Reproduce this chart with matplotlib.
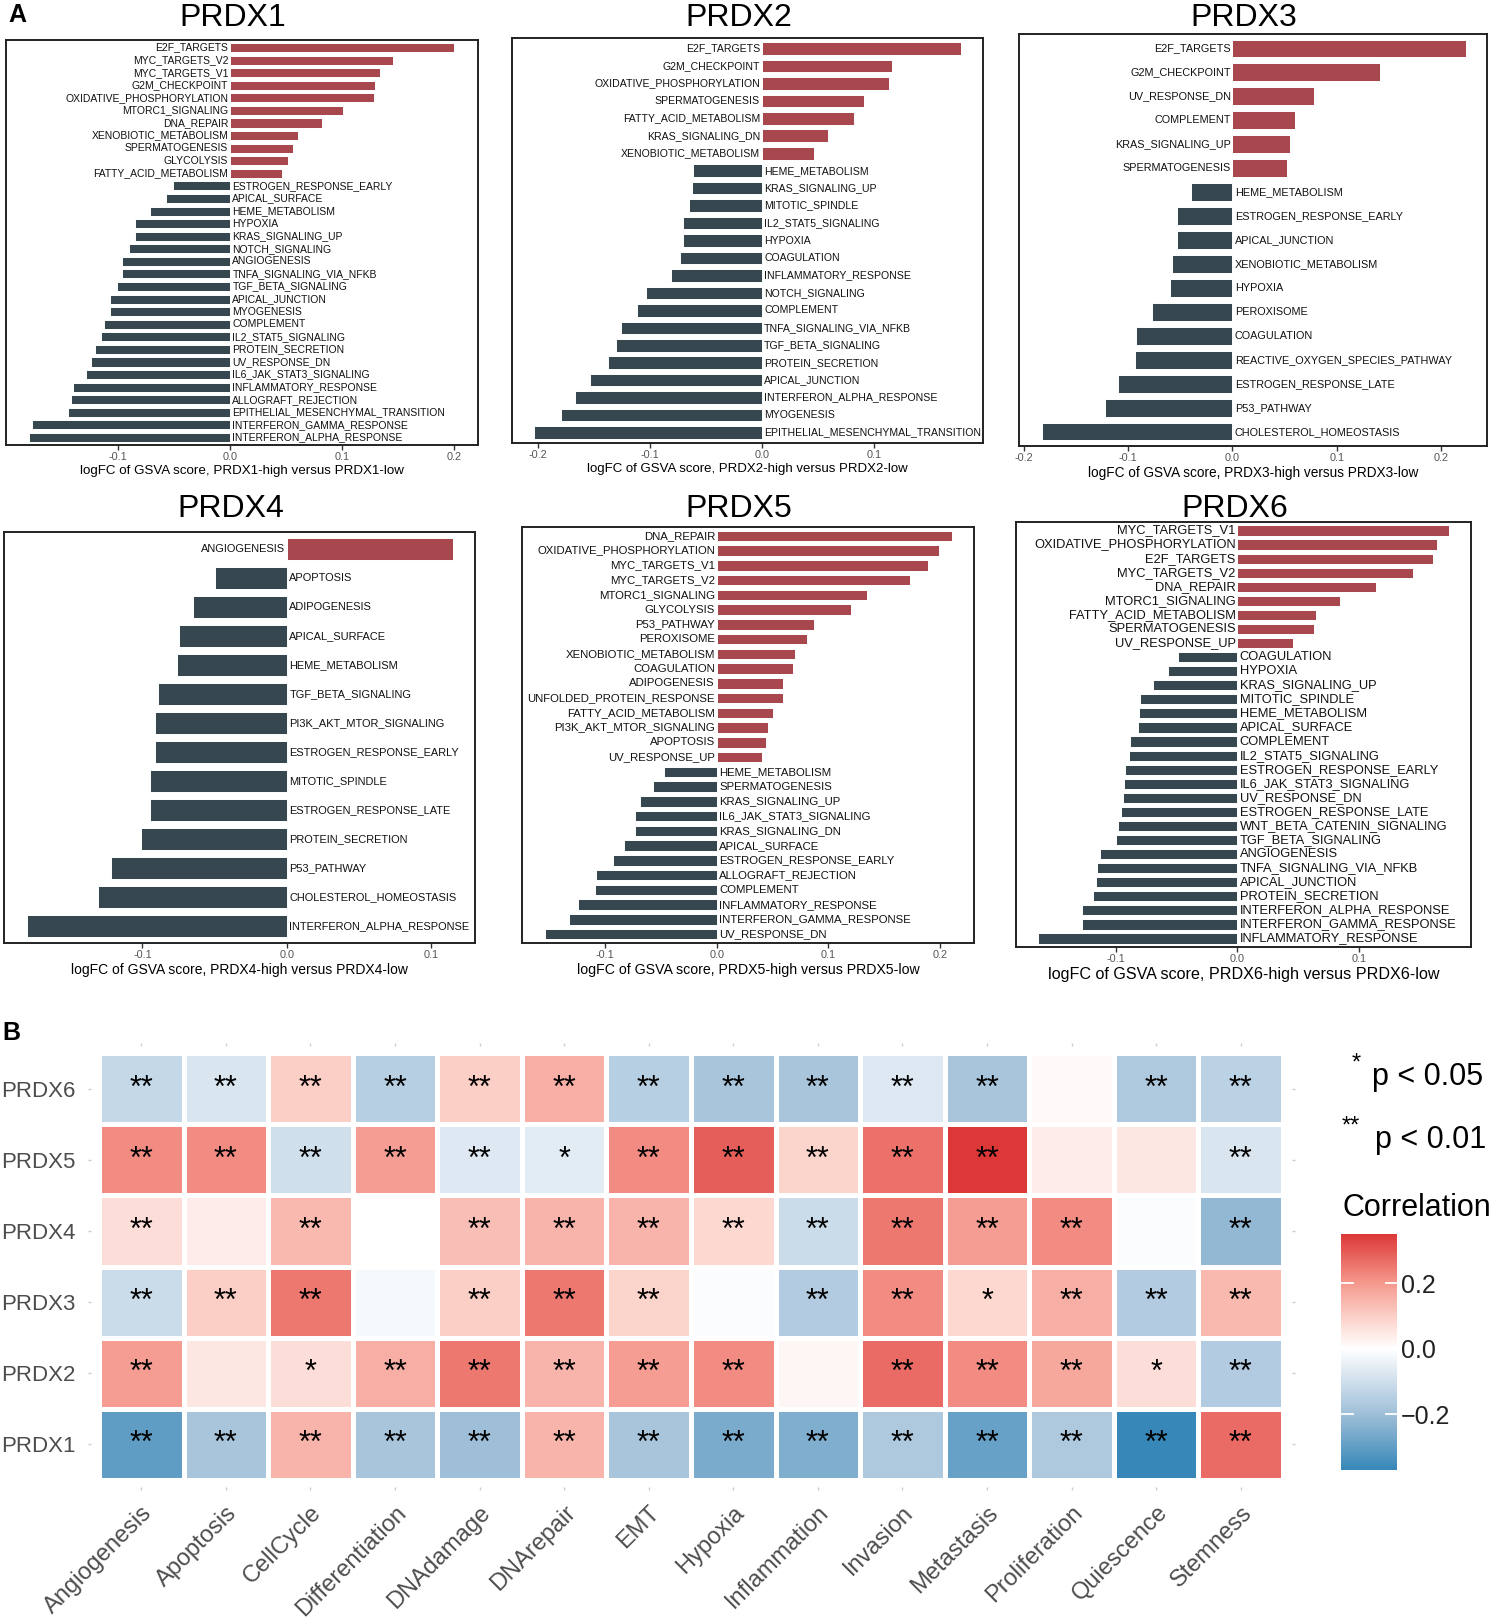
import numpy as np
import matplotlib
matplotlib.use('Agg')
import matplotlib.pyplot as plt
from matplotlib import font_manager
from matplotlib.colors import LinearSegmentedColormap, Normalize
from matplotlib.cm import ScalarMappable

plt.rcParams['font.family'] = ['Liberation Sans', 'DejaVu Sans']
installed = {f.name for f in font_manager.fontManager.ttflist}
NARROW = ['Liberation Sans Narrow', 'DejaVu Sans'] if 'Liberation Sans Narrow' in installed else ['Liberation Sans', 'DejaVu Sans']

# ---------------- data: panel A (logFC of GSVA score) ----------------
terms_prdx1 = ["E2F_TARGETS", "MYC_TARGETS_V2", "MYC_TARGETS_V1", "G2M_CHECKPOINT",
               "OXIDATIVE_PHOSPHORYLATION", "MTORC1_SIGNALING", "DNA_REPAIR",
               "XENOBIOTIC_METABOLISM", "SPERMATOGENESIS", "GLYCOLYSIS", "FATTY_ACID_METABOLISM",
               "ESTROGEN_RESPONSE_EARLY", "APICAL_SURFACE", "HEME_METABOLISM", "HYPOXIA",
               "KRAS_SIGNALING_UP", "NOTCH_SIGNALING", "ANGIOGENESIS", "TNFA_SIGNALING_VIA_NFKB",
               "TGF_BETA_SIGNALING", "APICAL_JUNCTION", "MYOGENESIS", "COMPLEMENT",
               "IL2_STAT5_SIGNALING", "PROTEIN_SECRETION", "UV_RESPONSE_DN",
               "IL6_JAK_STAT3_SIGNALING", "INFLAMMATORY_RESPONSE", "ALLOGRAFT_REJECTION",
               "EPITHELIAL_MESENCHYMAL_TRANSITION", "INTERFERON_GAMMA_RESPONSE",
               "INTERFERON_ALPHA_RESPONSE"]
logfc_prdx1 = [0.200, 0.145, 0.134, 0.129, 0.128, 0.101, 0.082, 0.061, 0.056, 0.052, 0.046,
               -0.051, -0.057, -0.071, -0.085, -0.085, -0.090, -0.096, -0.096, -0.101, -0.107,
               -0.107, -0.112, -0.115, -0.120, -0.124, -0.128, -0.140, -0.142, -0.144, -0.176,
               -0.179]

terms_prdx2 = ["E2F_TARGETS", "G2M_CHECKPOINT", "OXIDATIVE_PHOSPHORYLATION", "SPERMATOGENESIS",
               "FATTY_ACID_METABOLISM", "KRAS_SIGNALING_DN", "XENOBIOTIC_METABOLISM",
               "HEME_METABOLISM", "KRAS_SIGNALING_UP", "MITOTIC_SPINDLE", "IL2_STAT5_SIGNALING",
               "HYPOXIA", "COAGULATION", "INFLAMMATORY_RESPONSE", "NOTCH_SIGNALING", "COMPLEMENT",
               "TNFA_SIGNALING_VIA_NFKB", "TGF_BETA_SIGNALING", "PROTEIN_SECRETION",
               "APICAL_JUNCTION", "INTERFERON_ALPHA_RESPONSE", "MYOGENESIS",
               "EPITHELIAL_MESENCHYMAL_TRANSITION"]
logfc_prdx2 = [0.178, 0.116, 0.114, 0.091, 0.082, 0.059, 0.047, -0.061, -0.062, -0.065, -0.070,
               -0.070, -0.073, -0.081, -0.103, -0.111, -0.126, -0.130, -0.137, -0.153, -0.167,
               -0.179, -0.203]

terms_prdx3 = ["E2F_TARGETS", "G2M_CHECKPOINT", "UV_RESPONSE_DN", "COMPLEMENT",
               "KRAS_SIGNALING_UP", "SPERMATOGENESIS", "HEME_METABOLISM",
               "ESTROGEN_RESPONSE_EARLY", "APICAL_JUNCTION", "XENOBIOTIC_METABOLISM", "HYPOXIA",
               "PEROXISOME", "COAGULATION", "REACTIVE_OXYGEN_SPECIES_PATHWAY",
               "ESTROGEN_RESPONSE_LATE", "P53_PATHWAY", "CHOLESTEROL_HOMEOSTASIS"]
logfc_prdx3 = [0.224, 0.141, 0.078, 0.060, 0.055, 0.052, -0.040, -0.053, -0.053, -0.058, -0.060,
               -0.077, -0.092, -0.093, -0.110, -0.122, -0.182]

terms_prdx4 = ["ANGIOGENESIS", "APOPTOSIS", "ADIPOGENESIS", "APICAL_SURFACE", "HEME_METABOLISM",
               "TGF_BETA_SIGNALING", "PI3K_AKT_MTOR_SIGNALING", "ESTROGEN_RESPONSE_EARLY",
               "MITOTIC_SPINDLE", "ESTROGEN_RESPONSE_LATE", "PROTEIN_SECRETION", "P53_PATHWAY",
               "CHOLESTEROL_HOMEOSTASIS", "INTERFERON_ALPHA_RESPONSE"]
logfc_prdx4 = [0.115, -0.050, -0.065, -0.075, -0.076, -0.089, -0.091, -0.091, -0.095, -0.095,
               -0.101, -0.122, -0.131, -0.180]

terms_prdx5 = ["DNA_REPAIR", "OXIDATIVE_PHOSPHORYLATION", "MYC_TARGETS_V1", "MYC_TARGETS_V2",
               "MTORC1_SIGNALING", "GLYCOLYSIS", "P53_PATHWAY", "PEROXISOME",
               "XENOBIOTIC_METABOLISM", "COAGULATION", "ADIPOGENESIS",
               "UNFOLDED_PROTEIN_RESPONSE", "FATTY_ACID_METABOLISM", "PI3K_AKT_MTOR_SIGNALING",
               "APOPTOSIS", "UV_RESPONSE_UP", "HEME_METABOLISM", "SPERMATOGENESIS",
               "KRAS_SIGNALING_UP", "IL6_JAK_STAT3_SIGNALING", "KRAS_SIGNALING_DN",
               "APICAL_SURFACE", "ESTROGEN_RESPONSE_EARLY", "ALLOGRAFT_REJECTION", "COMPLEMENT",
               "INFLAMMATORY_RESPONSE", "INTERFERON_GAMMA_RESPONSE", "UV_RESPONSE_DN"]
logfc_prdx5 = [0.211, 0.199, 0.189, 0.173, 0.135, 0.120, 0.087, 0.081, 0.070, 0.068, 0.059,
               0.059, 0.050, 0.046, 0.044, 0.041, -0.047, -0.057, -0.069, -0.073, -0.073,
               -0.083, -0.093, -0.108, -0.109, -0.124, -0.132, -0.154]

terms_prdx6 = ["MYC_TARGETS_V1", "OXIDATIVE_PHOSPHORYLATION", "E2F_TARGETS", "MYC_TARGETS_V2",
               "DNA_REPAIR", "MTORC1_SIGNALING", "FATTY_ACID_METABOLISM", "SPERMATOGENESIS",
               "UV_RESPONSE_UP", "COAGULATION", "HYPOXIA", "KRAS_SIGNALING_UP",
               "MITOTIC_SPINDLE", "HEME_METABOLISM", "APICAL_SURFACE", "COMPLEMENT",
               "IL2_STAT5_SIGNALING", "ESTROGEN_RESPONSE_EARLY", "IL6_JAK_STAT3_SIGNALING",
               "UV_RESPONSE_DN", "ESTROGEN_RESPONSE_LATE", "WNT_BETA_CATENIN_SIGNALING",
               "TGF_BETA_SIGNALING", "ANGIOGENESIS", "TNFA_SIGNALING_VIA_NFKB",
               "APICAL_JUNCTION", "PROTEIN_SECRETION", "INTERFERON_ALPHA_RESPONSE",
               "INTERFERON_GAMMA_RESPONSE", "INFLAMMATORY_RESPONSE"]
logfc_prdx6 = [0.174, 0.164, 0.161, 0.144, 0.114, 0.084, 0.065, 0.063, 0.046, -0.049, -0.057,
               -0.069, -0.080, -0.081, -0.082, -0.088, -0.089, -0.092, -0.093, -0.094, -0.096,
               -0.098, -0.100, -0.113, -0.115, -0.116, -0.119, -0.128, -0.128, -0.164]

# ---------------- data: panel B (correlation heatmap) ----------------
states = ["Angiogenesis", "Apoptosis", "CellCycle", "Differentiation", "DNAdamage",
          "DNArepair", "EMT", "Hypoxia", "Inflammation", "Invasion", "Metastasis",
          "Proliferation", "Quiescence", "Stemness"]
genes = ["PRDX1", "PRDX2", "PRDX3", "PRDX4", "PRDX5", "PRDX6"]

corr_prdx1 = [-0.30, -0.18, 0.15, -0.18, -0.20, 0.15, -0.18, -0.26, -0.25, -0.17, -0.29, -0.17, -0.37, 0.27]
corr_prdx2 = [0.19, 0.05, 0.07, 0.16, 0.25, 0.15, 0.19, 0.22, 0.02, 0.27, 0.22, 0.17, 0.07, -0.16]
corr_prdx3 = [-0.11, 0.10, 0.25, -0.02, 0.10, 0.25, 0.09, -0.01, -0.16, 0.22, 0.08, 0.16, -0.16, 0.14]
corr_prdx4 = [0.07, 0.04, 0.14, 0.00, 0.13, 0.15, 0.15, 0.08, -0.11, 0.25, 0.19, 0.22, -0.01, -0.22]
corr_prdx5 = [0.22, 0.22, -0.10, 0.19, -0.07, -0.06, 0.22, 0.29, 0.09, 0.26, 0.35, 0.04, 0.05, -0.08]
corr_prdx6 = [-0.12, -0.08, 0.10, -0.15, 0.10, 0.16, -0.15, -0.18, -0.18, -0.07, -0.18, 0.01, -0.17, -0.14]

sig_prdx1 = ["**"] * 14
sig_prdx2 = ["**", "", "*", "**", "**", "**", "**", "**", "", "**", "**", "**", "*", "**"]
sig_prdx3 = ["**", "**", "**", "", "**", "**", "**", "", "**", "**", "*", "**", "**", "**"]
sig_prdx4 = ["**", "", "**", "", "**", "**", "**", "**", "**", "**", "**", "**", "", "**"]
sig_prdx5 = ["**", "**", "**", "**", "**", "*", "**", "**", "**", "**", "**", "", "", "**"]
sig_prdx6 = ["**", "**", "**", "**", "**", "**", "**", "**", "**", "**", "**", "", "**", "**"]

# ---------------- layout ----------------
W, H = 1491, 1623
fig = plt.figure(figsize=(W / 100, H / 100), dpi=100)


def px_axes(x0, y0, x1, y1):
    return fig.add_axes([x0 / W, 1 - y1 / H, (x1 - x0) / W, (y1 - y0) / H])


RED = '#A8474E'
SLATE = '#37474F'

panels = [
    # gene, terms, values, box (px), xlim, ticks, label size, xlabel size, bar height, title baseline
    ("PRDX1", terms_prdx1, logfc_prdx1, (6, 40, 478, 445), (-0.1995, 0.221),
     [-0.1, 0.0, 0.1, 0.2], 7.5, 9.6, 0.72, 26),
    ("PRDX2", terms_prdx2, logfc_prdx2, (512, 38, 983, 443), (-0.223, 0.1976),
     [-0.2, -0.1, 0.0, 0.1], 7.6, 9.5, 0.72, 26),
    ("PRDX3", terms_prdx3, logfc_prdx3, (1019, 34, 1487, 446), (-0.2045, 0.244),
     [-0.2, -0.1, 0.0, 0.1, 0.2], 7.85, 9.8, 0.74, 26),
    ("PRDX4", terms_prdx4, logfc_prdx4, (4, 532, 475, 943), (-0.196, 0.1305),
     [-0.1, 0.0, 0.1], 7.9, 10.0, 0.76, 517),
    ("PRDX5", terms_prdx5, logfc_prdx5, (522, 527, 974, 943), (-0.1743, 0.2304),
     [-0.1, 0.0, 0.1, 0.2], 8.2, 10.2, 0.70, 517),
    ("PRDX6", terms_prdx6, logfc_prdx6, (1016, 522, 1471, 947), (-0.1819, 0.192),
     [-0.1, 0.0, 0.1], 9.3, 11.6, 0.72, 517),
]

for gene, terms, vals, box, xlim, ticks, lab_fs, xl_fs, bh, title_y in panels:
    ax = px_axes(*box)
    n = len(terms)
    y = np.arange(n)[::-1]
    colors = [RED if v > 0 else SLATE for v in vals]
    ax.barh(y, vals, height=bh, color=colors, edgecolor='white', linewidth=0.7)
    for yi, t, v in zip(y, terms, vals):
        if v > 0:
            ax.annotate(t, (0, yi), xytext=(-1.2, 0), textcoords='offset points',
                        ha='right', va='center', fontsize=lab_fs, color='#111111')
        else:
            ax.annotate(t, (0, yi), xytext=(1.8, 0), textcoords='offset points',
                        ha='left', va='center', fontsize=lab_fs, color='#111111')
    ax.set_xlim(*xlim)
    ax.set_ylim(-0.6, n - 0.4)
    ax.set_yticks([])
    ax.set_xticks(ticks)
    ax.set_xticklabels([f'{t:.1f}' for t in ticks])
    ax.tick_params(axis='x', length=3.5, width=1.0, color='#333333', labelsize=7.8,
                   labelcolor='#555555', pad=1.5)
    for s in ax.spines.values():
        s.set_linewidth(1.4)
        s.set_color('#222222')
    ax.set_xlabel(f'logFC of GSVA score, {gene}-high versus {gene}-low',
                  fontsize=xl_fs, labelpad=2)
    cx = (box[0] + box[2]) / 2
    fig.text(cx / W - 0.006, 1 - title_y / H, gene, fontsize=23,
             ha='center', va='baseline')

fig.text(8 / W, 1 - 15 / H, 'A', fontsize=18, fontweight='bold', ha='left', va='center')
fig.text(2 / W, 1 - 1033 / H, 'B', fontsize=18, fontweight='bold', ha='left', va='center')

# ---------------- heatmap ----------------
corr = np.array([corr_prdx1, corr_prdx2, corr_prdx3, corr_prdx4, corr_prdx5, corr_prdx6])
sig = [sig_prdx1, sig_prdx2, sig_prdx3, sig_prdx4, sig_prdx5, sig_prdx6]

vmin, vmax = -0.37, 0.35
nodes = [(-0.37, '#3787B8'), (-0.2, '#9FBFD8'), (-0.1, '#CFDFEC'), (0.0, '#FFFFFF'),
         (0.1, '#FBCFC7'), (0.2, '#F5998D'), (0.35, '#DD3838')]
cmap = LinearSegmentedColormap.from_list(
    'corr', [((v - vmin) / (vmax - vmin), c) for v, c in nodes])
norm = Normalize(vmin=vmin, vmax=vmax)

hax = px_axes(90.5, 1046, 1291.5, 1487)
hax.pcolormesh(np.arange(len(states) + 1) - 0.5, np.arange(len(genes) + 1) - 0.5, corr,
               cmap=cmap, norm=norm, edgecolors='white', linewidth=3.5)
for i in range(len(genes)):
    for j in range(len(states)):
        if sig[i][j]:
            hax.text(j, i, sig[i][j], ha='center', va='center', fontsize=22, color='black')
hax.set_xlim(-0.6, len(states) - 0.4)
hax.set_ylim(-0.6, len(genes) - 0.4)
for s in hax.spines.values():
    s.set_visible(False)
hax.set_xticks(range(len(states)))
hax.set_yticks(range(len(genes)))
hax.set_xticklabels(states, rotation=45, ha='right', va='top', rotation_mode='anchor',
                    fontsize=17, color='#4D4D4D', family=NARROW)
hax.set_yticklabels(genes, fontsize=16, color='#4D4D4D', family=NARROW)
hax.tick_params(top=True, right=True, labeltop=False, labelright=False, length=2.5,
                width=1.0, color='#CCCCCC')
hax.tick_params(axis='x', pad=8)
hax.tick_params(axis='y', pad=8)

# significance legend
fig.text(1352 / W, 1 - 1064 / H, '*', fontsize=17, ha='left', va='center', family=NARROW)
fig.text(1372 / W, 1 - 1077 / H, 'p < 0.05', fontsize=22, ha='left', va='center', family=NARROW)
fig.text(1342 / W, 1 - 1127 / H, '**', fontsize=17, ha='left', va='center', family=NARROW)
fig.text(1375 / W, 1 - 1140 / H, 'p < 0.01', fontsize=22, ha='left', va='center', family=NARROW)
fig.text(1342 / W, 1 - 1208 / H, 'Correlation', fontsize=22, ha='left', va='center', family=NARROW)

cax = px_axes(1341, 1234, 1397, 1470)
cb = fig.colorbar(ScalarMappable(norm=norm, cmap=cmap), cax=cax, ticks=[-0.2, 0.0, 0.2])
cb.outline.set_visible(False)
cax.set_yticklabels(['\u22120.2', '0.0', '0.2'], family=NARROW)
cax.tick_params(direction='in', length=9, width=1.3, color='white', left=True, right=True,
                labelsize=18, labelcolor='#222222', pad=3)

fig.savefig('out.png', dpi=100)
